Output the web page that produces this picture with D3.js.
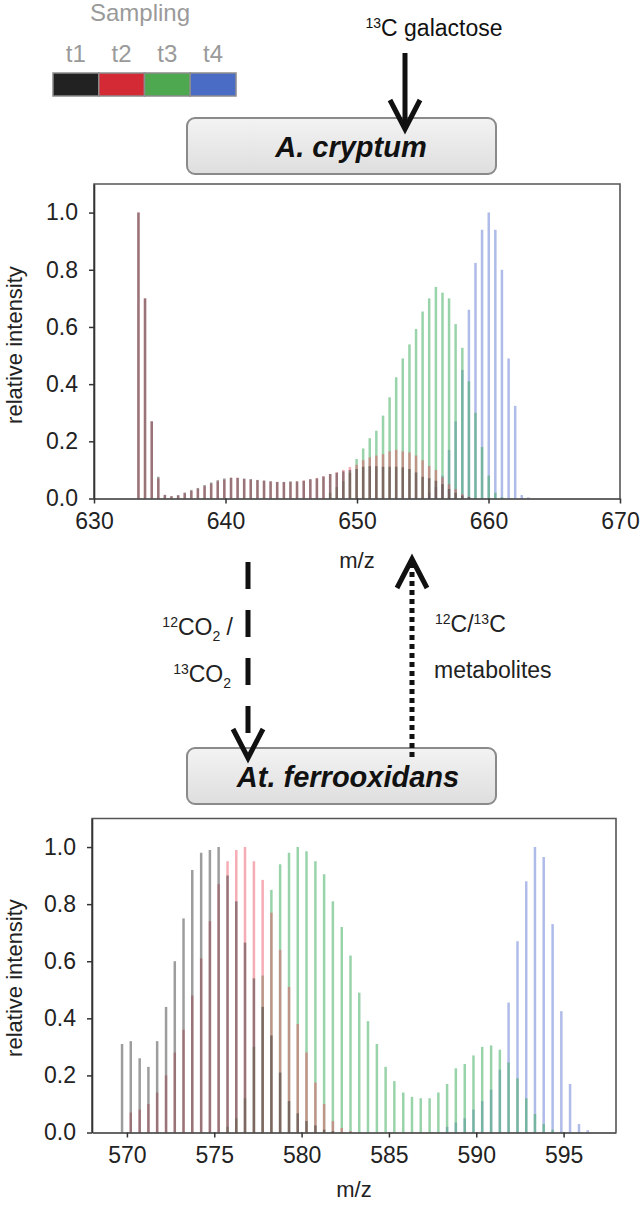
<!DOCTYPE html>
<html>
<head>
<meta charset="utf-8">
<script src="https://cdn.jsdelivr.net/npm/d3@7"></script>
<style>
  html, body { margin: 0; padding: 0; background: #fff; }
  svg { display: block; font-family: "Liberation Sans", Arial, Helvetica, sans-serif; }
</style>
</head>
<body>
<svg id="fig" width="641" height="1205"></svg>
<script>
// ---------------- DATA ----------------
const seriesNames = ["t1", "t2", "t3", "t4"];
const seriesColors = ["#222222", "#d42a35", "#4ea84f", "#4a6cc4"];

// Top spectrum (A. cryptum)
const topMz = [633.38,633.88,634.39,634.89,635.39,635.89,636.40,636.90,637.40,637.90,
  638.41,638.91,639.41,639.91,640.42,640.92,641.42,641.92,642.43,642.93,
  643.43,643.93,644.44,644.94,645.44,645.95,646.45,646.95,647.45,647.96,
  648.46,648.96,649.46,649.97,650.47,650.97,651.47,651.98,652.48,652.98,
  653.48,653.99,654.49,654.99,655.49,656.00,656.50,657.00,657.50,658.01,
  658.51,659.01,659.51,660.02,660.52,661.02,661.53,662.03,662.53,663.03];
const topT1 = [1.0,0.70,0.27,0.076,0.013,0.008,0.012,0.021,0.030,0.037,
  0.047,0.056,0.064,0.070,0.073,0.072,0.070,0.068,0.065,0.063,
  0.060,0.058,0.058,0.060,0.060,0.062,0.068,0.070,0.077,0.086,
  0.090,0.095,0.100,0.103,0.111,0.113,0.113,0.111,0.111,0.111,
  0.109,0.103,0.091,0.076,0.071,0.062,0.050,0.033,0.020,0.010,
  0.005,0,0,0,0,0,0,0,0,0];
const topT2 = [1.0,0.70,0.27,0.070,0.012,0.008,0.010,0.018,0.026,0.034,
  0.043,0.052,0.060,0.066,0.072,0.073,0.068,0.066,0.064,0.062,
  0.060,0.058,0.057,0.058,0.060,0.063,0.066,0.072,0.078,0.085,
  0.092,0.100,0.110,0.118,0.134,0.144,0.150,0.155,0.165,0.170,
  0.165,0.161,0.150,0.134,0.114,0.100,0.074,0.050,0.033,0.015,
  0.006,0.002,0,0,0,0,0,0,0,0];
const topT3 = [0,0,0,0,0,0,0,0,0,0,
  0,0,0,0,0,0,0,0,0,0,
  0,0,0,0,0,0,0,0,0,0.02,
  0.04,0.06,0.09,0.138,0.175,0.211,0.237,0.290,0.354,0.424,
  0.490,0.539,0.593,0.654,0.700,0.740,0.720,0.700,0.610,0.527,
  0.410,0.300,0.180,0.080,0.020,0.005,0,0,0,0];
const topT4 = [0,0,0,0,0,0,0,0,0,0,
  0,0,0,0,0,0,0,0,0,0,
  0,0,0,0,0,0,0,0,0,0,
  0,0,0,0,0,0,0,0,0,0,
  0,0,0,0,0.02,0.04,0.08,0.17,0.27,0.45,
  0.66,0.824,0.94,1.0,0.94,0.80,0.49,0.324,0.012,0.004];

// Bottom spectrum (At. ferrooxidans)
const botMz = [569.72,570.22,570.73,571.23,571.73,572.24,572.74,573.24,573.74,574.25,
  574.75,575.25,575.76,576.26,576.76,577.27,577.77,578.27,578.77,579.28,
  579.78,580.28,580.79,581.29,581.79,582.30,582.80,583.30,583.80,584.31,
  584.81,585.31,585.82,586.32,586.82,587.33,587.83,588.33,588.83,589.34,
  589.84,590.34,590.85,591.35,591.85,592.36,592.86,593.36,593.86,594.37,
  594.87,595.37,595.88,596.38,596.88];
const botT1 = [0.31,0.32,0.26,0.23,0.32,0.44,0.60,0.75,0.92,0.98,
  0.99,1.0,0.90,0.81,0.665,0.54,0.44,0.34,0.21,0.11,
  0.067,0.04,0.025,0.01,0.005,0,0,0,0,0,
  0,0,0,0,0,0,0,0,0,0,
  0,0,0,0,0,0,0,0,0,0,
  0,0,0,0,0];
const botT2 = [0,0.07,0.08,0.10,0.14,0.20,0.28,0.36,0.48,0.61,
  0.74,0.87,0.95,0.99,1.0,0.95,0.885,0.77,0.64,0.51,
  0.38,0.28,0.175,0.10,0.04,0.016,0.005,0,0,0,
  0,0,0,0,0,0,0,0,0,0,
  0,0,0,0,0,0,0,0,0,0,
  0,0,0,0,0];
const botT3 = [0,0,0,0,0,0,0,0,0,0,
  0,0,0.02,0.05,0.12,0.30,0.55,0.85,0.94,0.98,
  1.0,0.985,0.95,0.905,0.81,0.72,0.62,0.49,0.39,0.31,
  0.23,0.18,0.14,0.125,0.12,0.12,0.14,0.17,0.225,0.24,
  0.27,0.30,0.305,0.29,0.245,0.19,0.12,0.065,0.03,0.01,
  0,0,0,0,0];
const botT4 = [0,0,0,0,0,0,0,0,0,0,
  0,0,0,0,0,0,0,0,0,0,
  0,0,0,0,0,0,0,0,0,0,
  0,0,0,0,0,0,0,0.02,0.035,0.05,
  0.08,0.11,0.15,0.22,0.455,0.67,0.88,1.0,0.965,0.73,
  0.425,0.17,0.03,0.008,0];

const topXTicks = [630, 640, 650, 660, 670];
const botXTicks = [570, 575, 580, 585, 590, 595];
const yTicks = [0, 0.2, 0.4, 0.6, 0.8, 1.0];

// ---------------- DRAW ----------------
const svg = d3.select("#fig");
const barColors = ["rgba(60,60,60,0.5)", "rgba(232,70,92,0.45)", "rgba(70,175,100,0.55)", "rgba(95,120,210,0.5)"];

const defs = svg.append("defs");
const grad = defs.append("linearGradient").attr("id", "boxg").attr("x1", 0).attr("y1", 0).attr("x2", 0).attr("y2", 1);
grad.append("stop").attr("offset", "0%").attr("stop-color", "#f3f3f3");
grad.append("stop").attr("offset", "100%").attr("stop-color", "#dedede");

// Legend
svg.append("text").attr("x", 140).attr("y", 21).attr("text-anchor", "middle")
  .attr("font-size", 24).attr("fill", "#9a9a9a").text("Sampling");
const legX = d3.scaleBand().domain(seriesNames).range([53, 236]);
seriesNames.forEach((s, i) => {
  svg.append("rect").attr("x", legX(s)).attr("y", 73).attr("width", legX.bandwidth()).attr("height", 23)
    .attr("fill", seriesColors[i]).attr("stroke", "#8c8c8c").attr("stroke-width", 1.5);
  svg.append("text").attr("x", legX(s) + legX.bandwidth() / 2).attr("y", 62).attr("text-anchor", "middle")
    .attr("font-size", 24).attr("fill", "#9a9a9a").text(s);
});

function orgBox(y, label, cx) {
  svg.append("rect").attr("x", 187).attr("y", y).attr("width", 309).attr("height", 56)
    .attr("rx", 8).attr("ry", 8).attr("fill", "url(#boxg)").attr("stroke", "#8a8a8a").attr("stroke-width", 2);
  svg.append("text").attr("x", cx).attr("y", y + 39).attr("text-anchor", "middle")
    .attr("font-size", 29).attr("font-weight", "bold").attr("font-style", "italic")
    .attr("fill", "#111").text(label);
}

// 13C galactose label + arrow
const gal = svg.append("text").attr("x", 434).attr("y", 36).attr("text-anchor", "middle").attr("font-size", 23).attr("fill", "#111");
gal.append("tspan").attr("font-size", 14).attr("dy", -8).text("13");
gal.append("tspan").attr("dy", 8).text("C galactose");

orgBox(118, "A. cryptum", 351);

function arrowHead(x, yTip, dir) {
  const p = d3.path();
  p.moveTo(x - 15, yTip - dir * 29);
  p.lineTo(x, yTip);
  p.lineTo(x + 15, yTip - dir * 29);
  svg.append("path").attr("d", p.toString()).attr("fill", "none").attr("stroke", "#111")
    .attr("stroke-width", 5).attr("stroke-linejoin", "miter");
}
svg.append("line").attr("x1", 405).attr("x2", 405).attr("y1", 53).attr("y2", 126)
  .attr("stroke", "#111").attr("stroke-width", 5);
arrowHead(405, 129, 1);

// ---------- Chart helper ----------
function drawChart(opt) {
  const x = d3.scaleLinear().domain(opt.xDomain).range([opt.left, opt.right]);
  const y = d3.scaleLinear().domain([0, 1.1]).range([opt.bottom, opt.top]);
  const g = svg.append("g");

  const series = opt.series;
  for (let si = series.length - 1; si >= 0; si--) {
    const vals = series[si];
    g.append("g").selectAll("line")
      .data(opt.mz.map((m, i) => ({ m, v: vals[i] })).filter(d => d.v > 0))
      .join("line")
      .attr("x1", d => x(d.m)).attr("x2", d => x(d.m))
      .attr("y1", y(0)).attr("y2", d => y(d.v))
      .attr("stroke", barColors[si]).attr("stroke-width", 2.5);
  }

  g.append("path")
    .attr("d", `M${opt.left},${y(0)}V${opt.top}H${opt.right}V${y(0)}`)
    .attr("fill", "none").attr("stroke", "#555").attr("stroke-width", 1.6);

  const xAxis = g.append("g").attr("transform", `translate(0,${y(0)})`)
    .call(d3.axisBottom(x).tickValues(opt.xTicks).tickFormat(d3.format("d")).tickSize(5).tickSizeOuter(0).tickPadding(9));
  xAxis.select(".domain").attr("stroke", "#333").attr("stroke-width", 1.6);
  xAxis.selectAll(".tick line").attr("stroke", "#333").attr("stroke-width", 1.5);
  xAxis.selectAll(".tick text").attr("font-size", 23).attr("fill", "#222")
    .attr("font-family", "Liberation Sans, Arial, sans-serif");

  const yAxis = g.append("g").attr("transform", `translate(${opt.left},0)`)
    .call(d3.axisLeft(y).tickValues(yTicks).tickFormat(d3.format(".1f")).tickSize(5).tickSizeOuter(0).tickPadding(11));
  yAxis.select(".domain").attr("stroke", "#333").attr("stroke-width", 1.6);
  yAxis.selectAll(".tick line").attr("stroke", "#333").attr("stroke-width", 1.5);
  yAxis.selectAll(".tick text").attr("font-size", 23).attr("fill", "#222")
    .attr("font-family", "Liberation Sans, Arial, sans-serif");

  svg.append("text").attr("transform", `translate(22,${opt.ylabY}) rotate(-90)`)
    .attr("text-anchor", "middle").attr("font-size", 22).attr("fill", "#222").text("relative intensity");
  svg.append("text").attr("x", (opt.left + opt.right) / 2).attr("y", opt.xlabY)
    .attr("text-anchor", "middle").attr("font-size", 22).attr("fill", "#222").text("m/z");
}

drawChart({
  mz: topMz, series: [topT1, topT2, topT3, topT4],
  xDomain: [630, 670], xTicks: topXTicks,
  left: 94, right: 620, top: 184, bottom: 498.5,
  ylabY: 345, xlabY: 568
});

// Middle arrows and labels
svg.append("line").attr("x1", 248).attr("x2", 248).attr("y1", 562).attr("y2", 755)
  .attr("stroke", "#111").attr("stroke-width", 5).attr("stroke-dasharray", "27,21");
const co1 = svg.append("text").attr("x", 233).attr("y", 635).attr("text-anchor", "end").attr("font-size", 23).attr("fill", "#222");
co1.append("tspan").attr("font-size", 14).attr("dy", -8).text("12");
co1.append("tspan").attr("dy", 8).text("CO");
co1.append("tspan").attr("font-size", 14).attr("dy", 6).text("2");
co1.append("tspan").attr("dy", -6).text(" /");
const co2 = svg.append("text").attr("x", 231).attr("y", 682).attr("text-anchor", "end").attr("font-size", 23).attr("fill", "#222");
co2.append("tspan").attr("font-size", 14).attr("dy", -8).text("13");
co2.append("tspan").attr("dy", 8).text("CO");
co2.append("tspan").attr("font-size", 14).attr("dy", 6).text("2");

const cc = svg.append("text").attr("x", 435).attr("y", 632).attr("font-size", 23).attr("fill", "#222");
cc.append("tspan").attr("font-size", 14).attr("dy", -8).text("12");
cc.append("tspan").attr("dy", 8).text("C/");
cc.append("tspan").attr("font-size", 14).attr("dy", -8).text("13");
cc.append("tspan").attr("dy", 8).text("C");
svg.append("text").attr("x", 434).attr("y", 678).attr("font-size", 23).attr("fill", "#222").text("metabolites");

orgBox(748, "At. ferrooxidans", 348);

arrowHead(248, 758, 1);
svg.append("line").attr("x1", 412).attr("x2", 412).attr("y1", 757).attr("y2", 562)
  .attr("stroke", "#111").attr("stroke-width", 5).attr("stroke-dasharray", "5,4");
arrowHead(412, 559, -1);

drawChart({
  mz: botMz, series: [botT1, botT2, botT3, botT4],
  xDomain: [568, 598], xTicks: botXTicks,
  left: 92, right: 616, top: 818.5, bottom: 1132.5,
  ylabY: 978, xlabY: 1197
});
</script>
</body>
</html>
